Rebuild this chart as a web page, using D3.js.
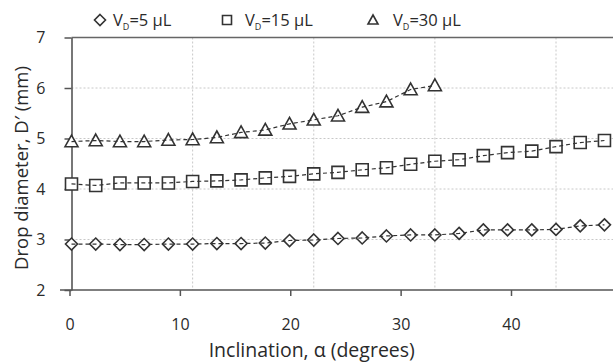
<!DOCTYPE html>
<html>
<head>
<meta charset="utf-8">
<script src="https://cdn.jsdelivr.net/npm/d3@7"></script>
<style>
  body { margin: 0; background: #fff; }
  text { font-family: "Open Sans", "Noto Sans", sans-serif; fill: #2a2a2a; }
</style>
</head>
<body>
<svg id="chart" width="613" height="362"></svg>
<script>
// inclination angles (degrees)
const angles = [0, 2, 4, 6, 8, 10, 12, 14, 16, 18, 20, 22, 24, 26, 28, 30, 32, 34, 36, 38, 40, 42, 44];
const anglesTri = [0, 2, 4, 6, 8, 10, 12, 14, 16, 18, 20, 22, 24, 26, 28, 30];

// drop diameter (mm)
const d5 = [2.91, 2.91, 2.90, 2.90, 2.91, 2.91, 2.92, 2.92, 2.93, 2.98, 2.99, 3.02, 3.03, 3.07, 3.09, 3.09, 3.12, 3.19, 3.19, 3.19, 3.20, 3.27, 3.29];
const d15 = [4.10, 4.07, 4.12, 4.12, 4.12, 4.15, 4.16, 4.18, 4.22, 4.25, 4.30, 4.33, 4.38, 4.42, 4.49, 4.55, 4.58, 4.66, 4.72, 4.75, 4.84, 4.92, 4.96];
const d30 = [4.94, 4.96, 4.94, 4.94, 4.97, 4.98, 5.02, 5.12, 5.17, 5.29, 5.37, 5.45, 5.62, 5.73, 5.97, 6.05];

const xTicks = [0, 10, 20, 30, 40];
const yTicks = [2, 3, 4, 5, 6, 7];
const gridX = [10, 20, 30, 40];
const gridY = [3, 4, 5, 6];

const svg = d3.select('#chart');

// data scale (points and grid) and the printed axis scale
const x = d3.scaleLinear().domain([0, 40]).range([71.5, 556]);
const xAx = d3.scaleLinear().domain([0, 40]).range([69.5, 511]);
const y = d3.scaleLinear().domain([2, 7]).range([290, 37.5]);

const gGrid = svg.append('g');
gGrid.selectAll('line.gx').data(gridX).enter().append('line')
  .attr('x1', d => x(d)).attr('x2', d => x(d))
  .attr('y1', y(7)).attr('y2', y(2))
  .attr('stroke', '#c8c8c8').attr('stroke-dasharray', '2,2');
gGrid.selectAll('line.gy').data(gridY).enter().append('line')
  .attr('x1', x(0)).attr('x2', 613)
  .attr('y1', d => y(d)).attr('y2', d => y(d))
  .attr('stroke', '#c8c8c8').attr('stroke-dasharray', '2,2');

// top border
svg.append('line')
  .attr('x1', x(0)).attr('x2', 613)
  .attr('y1', y(7)).attr('y2', y(7))
  .attr('stroke', '#666').attr('stroke-width', 1.5);

// axes
const xAxis = d3.axisBottom(xAx).tickValues(xTicks).tickSize(6).tickSizeOuter(0);
const gx = svg.append('g').attr('transform', 'translate(0,' + y(2) + ')').call(xAxis);
gx.select('.domain').attr('d', 'M' + 60 + ',0H613');
const yAxis = d3.axisLeft(y).tickValues(yTicks).tickFormat(d3.format('d')).tickSize(7).tickSizeOuter(0);
const gy = svg.append('g').attr('transform', 'translate(' + x(0) + ',0)').call(yAxis);

[gx, gy].forEach(g => {
  g.selectAll('.domain').attr('stroke', '#555').attr('stroke-width', 1.6);
  g.selectAll('.tick line').attr('stroke', '#555').attr('stroke-width', 1.5);
  g.selectAll('.tick text').attr('font-size', '16px').attr('fill', '#2a2a2a')
    .attr('font-family', '"Open Sans", sans-serif');
});
gx.selectAll('.tick text').attr('dy', '1.95em');
gy.selectAll('.tick text').attr('dx', '-1em');

// markers
function marker(g, type, cx, cy, s) {
  let p;
  if (type === 'diamond') {
    p = `M${cx},${cy - s}L${cx + s},${cy}L${cx},${cy + s}L${cx - s},${cy}Z`;
  } else if (type === 'square') {
    p = `M${cx - s},${cy - s}H${cx + s}V${cy + s}H${cx - s}Z`;
  } else {
    p = `M${cx},${cy - s}L${cx + s},${cy + s * 0.8}H${cx - s}Z`;
  }
  g.append('path').attr('d', p)
    .attr('fill', '#fff').attr('stroke', '#333').attr('stroke-width', 1.6);
}

const series = [
  { xs: angles, ys: d5, type: 'diamond', size: 6 },
  { xs: angles, ys: d15, type: 'square', size: 6 },
  { xs: anglesTri, ys: d30, type: 'triangle', size: 6.5 }
];

const line = d3.line().x(d => x(d[0])).y(d => y(d[1]));

series.forEach(s => {
  const pts = s.xs.map((a, i) => [a, s.ys[i]]);
  const g = svg.append('g');
  pts.forEach(p => marker(g, s.type, x(p[0]), y(p[1]), s.size));
  g.append('path').datum(pts).attr('d', line)
    .attr('fill', 'none').attr('stroke', '#333')
    .attr('stroke-width', 1.2).attr('stroke-dasharray', '4,3');
});

// legend
const legend = [
  { type: 'diamond', label: '5 μL', mx: 100, tx: 113, size: 5.5 },
  { type: 'square', label: '15 μL', mx: 227, tx: 245, size: 4.5 },
  { type: 'triangle', label: '30 μL', mx: 373, tx: 393, size: 5 }
];
const gl = svg.append('g');
legend.forEach(l => {
  marker(gl, l.type, l.mx, 20, l.size);
  const t = gl.append('text').attr('x', l.tx).attr('y', 26).attr('font-size', '16.5px');
  t.append('tspan').text('V');
  t.append('tspan').text('D').attr('font-size', '9px').attr('dy', 4);
  t.append('tspan').text('=' + l.label).attr('dy', -4);
});

// axis titles
svg.append('text')
  .attr('x', x(20) - 2).attr('y', 357)
  .attr('text-anchor', 'middle').attr('font-size', '19.5px')
  .text('Inclination, α (degrees)');

svg.append('text')
  .attr('transform', 'translate(28,168) rotate(-90)')
  .attr('text-anchor', 'middle').attr('font-size', '18.5px')
  .text('Drop diameter, D′ (mm)');
</script>
</body>
</html>
